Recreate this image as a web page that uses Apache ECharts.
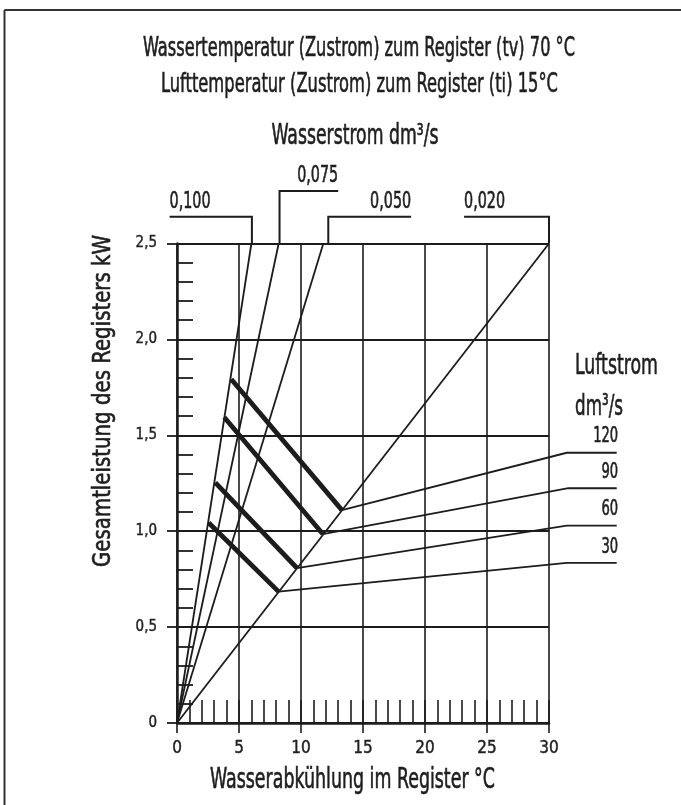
<!DOCTYPE html>
<html><head><meta charset="utf-8">
<script src="https://cdn.jsdelivr.net/npm/echarts@6/dist/echarts.min.js"></script>
<style>html,body{margin:0;padding:0;background:#fff}#c{width:681px;height:805px}</style>
</head><body><div id="c"></div>
<script>
// ---------- data ----------
const xTickLabels = ['0', '5', '10', '15', '20', '25', '30'];
const yTickLabels = ['0', '0,5', '1,0', '1,5', '2,0', '2,5'];

const waterFlowLabels = ['0,100', '0,075', '0,050', '0,020'];
const waterLineTopX   = [6.0, 8.2, 11.8, 30.0];      // water cooling reached at 2,5 kW
const waterBracketX   = [6.04, 8.27, 12.2, 30.0];
const waterBracketY   = [2.64, 2.774, 2.64, 2.64];
const waterBracketEndX = [-0.6, 13.0, 18.88, 23.15];

const airFlowLabels = ['120', '90', '60', '30'];
const airStart = [[4.375, 1.792], [3.81, 1.594], [3.09, 1.253], [2.55, 1.044]];
const airEnd   = [[13.30, 1.110], [11.76, 0.985], [9.67, 0.808], [8.19, 0.685]];
const airLeaderEnd = [[31.43, 1.409], [31.56, 1.224], [31.43, 1.029], [31.43, 0.835]];
const airLeaderRightX = 35.46;

const titleLines = [
  'Wassertemperatur (Zustrom) zum Register (tv) 70 °C',
  'Lufttemperatur (Zustrom) zum Register (ti) 15°C',
  'Wasserstrom dm³/s'
];
const airTitle = ['Luftstrom', 'dm³/s'];
const xName = 'Wasserabkühlung im Register °C';
const yName = 'Gesamtleistung des Registers kW';

// ---------- style ----------
const FONT = '"DejaVu Sans Condensed", "Liberation Sans Narrow", sans-serif';
const INK = '#1c1c1c';
const TXT = '#1e1e1e';

const mctx = document.createElement('canvas').getContext('2d');
function measure(text, size) {
  mctx.font = size + 'px ' + FONT;
  return mctx.measureText(text).width;
}
function gText(text, x, y, size, scaleX, align, rot) {
  return {
    type: 'text', x: x, y: y, rotation: rot || 0, scaleX: scaleX, scaleY: 1,
    style: {
      text: text, fontSize: size, fontFamily: FONT, fill: TXT,
      stroke: TXT, lineWidth: 0.6,
      align: align, textAlign: align,
      verticalAlign: 'middle', textVerticalAlign: 'middle'
    },
    silent: true
  };
}
function gFit(text, x, y, size, targetW, align, rot) {
  return gText(text, x, y, size, targetW / measure(text, size), align, rot);
}

const series = [];
function lineSeries(data, width, z) {
  series.push({
    type: 'line', xAxisIndex: 2, yAxisIndex: 2, data: data,
    symbol: 'none', clip: false, silent: true, animation: false, z: z || 3,
    lineStyle: { color: INK, width: width, cap: 'butt', join: 'miter' }
  });
}
// water flow lines from origin
waterLineTopX.forEach(function (x) { lineSeries([[0, 0], [x, 2.5]], 1.8, 3); });
// water flow brackets
waterBracketX.forEach(function (x, i) {
  lineSeries([[x, 2.5], [x, waterBracketY[i]], [waterBracketEndX[i], waterBracketY[i]]], 2, 3);
});
// thick air-flow lines
airStart.forEach(function (p, i) { lineSeries([p, airEnd[i]], 4.8, 4); });
// leaders to the right
airEnd.forEach(function (p, i) {
  lineSeries([p, airLeaderEnd[i], [airLeaderRightX, airLeaderEnd[i][1]]], 1.8, 3);
});

const hiddenAxis = { show: false, axisLine: { show: false }, axisTick: { show: false },
  axisLabel: { show: false }, splitLine: { show: false } };

const option = {
  backgroundColor: '#fff',
  animation: false,
  grid: [
    { left: 177, right: 132, top: 243.5, bottom: 82, containLabel: false },
    // overlay with identical scale but wider range, so marks outside the plot are drawn
    { left: 152.2, right: 57.6, top: 147.6, bottom: 82, containLabel: false }
  ],
  xAxis: [{
    type: 'value', gridIndex: 0, min: 0, max: 30, interval: 5, position: 'bottom',
    axisLine: { show: true, onZero: false, lineStyle: { color: INK, width: 2.5 } },
    axisTick: { show: true, length: 10, lineStyle: { color: INK, width: 1.6 } },
    axisLabel: { margin: 17, fontSize: 17, fontFamily: FONT, color: TXT,
      textBorderColor: TXT, textBorderWidth: 0.4,
      formatter: function (v) { return xTickLabels[Math.round(v / 5)]; } },
    splitLine: { show: true, lineStyle: { color: INK, width: 1.6 } }
  }, {
    type: 'value', gridIndex: 0, min: 0, max: 30, interval: 1, position: 'bottom',
    axisLine: { show: false },
    axisTick: { show: true, inside: true, length: 23, lineStyle: { color: INK, width: 1.6 } },
    axisLabel: { show: false }, splitLine: { show: false }
  }, Object.assign({ type: 'value', gridIndex: 1, min: -2, max: 36 }, hiddenAxis)],
  yAxis: [{
    type: 'value', gridIndex: 0, min: 0, max: 2.5, interval: 0.5, position: 'left',
    axisLine: { show: true, onZero: false, lineStyle: { color: INK, width: 2.5 } },
    axisTick: { show: true, length: 10, lineStyle: { color: INK, width: 1.8 } },
    axisLabel: { margin: 20, fontSize: 15, fontFamily: FONT, color: TXT,
      textBorderColor: TXT, textBorderWidth: 0.4,
      formatter: function (v) { return yTickLabels[Math.round(v / 0.5)]; } },
    splitLine: { show: true, lineStyle: { color: INK, width: 1.8 } }
  }, {
    type: 'value', gridIndex: 0, min: 0, max: 2.5, interval: 0.1, position: 'left',
    axisLine: { show: false },
    axisTick: { show: true, inside: true, length: 16, lineStyle: { color: INK, width: 1.8 } },
    axisLabel: { show: false }, splitLine: { show: false }
  }, Object.assign({ type: 'value', gridIndex: 1, min: 0, max: 3 }, hiddenAxis)],
  series: series
};

const chart = echarts.init(document.getElementById('c'), null, { renderer: 'canvas' });
chart.setOption(option);

// ---------- text (positions of data labels come from the chart's own scales) ----------
const toPx = function (p) { return chart.convertToPixel({ gridIndex: 1 }, p); };
const graphics = [
  { type: 'line', shape: { x1: 4.5, y1: 10, x2: 4.5, y2: 805 }, style: { stroke: '#333', lineWidth: 2 }, silent: true },
  { type: 'line', shape: { x1: 4.5, y1: 10, x2: 681, y2: 10 }, style: { stroke: '#333', lineWidth: 2 }, silent: true },
  gFit(titleLines[0], 359, 49, 26, 432, 'center'),
  gFit(titleLines[1], 359.5, 85, 26, 397, 'center'),
  gFit(titleLines[2], 355, 137, 28, 167, 'center'),
  gFit(airTitle[0], 575, 366, 29, 83, 'left'),
  gFit(airTitle[1], 575, 407, 29, 48, 'left'),
  gFit(xName, 352.5, 781, 28, 285, 'center'),
  gFit(yName, 103, 401, 25, 332, 'center', Math.PI / 2)
];
const bracketScale = 41 / measure(waterFlowLabels[0], 23);
waterFlowLabels.forEach(function (t, i) {
  const p = toPx([waterBracketEndX[i], waterBracketY[i]]);
  const left = waterBracketEndX[i] < waterBracketX[i];
  graphics.push(gText(t, p[0], p[1] - 15, 23, bracketScale, left ? 'left' : 'right'));
});
const airScale = 25 / measure(airFlowLabels[0], 22);
airFlowLabels.forEach(function (t, i) {
  const p = toPx([airLeaderRightX, airLeaderEnd[i][1]]);
  graphics.push(gText(t, p[0] + 1.5, p[1] - 16, 22, airScale, 'right'));
});
chart.setOption({ graphic: graphics });
</script>
</body></html>
